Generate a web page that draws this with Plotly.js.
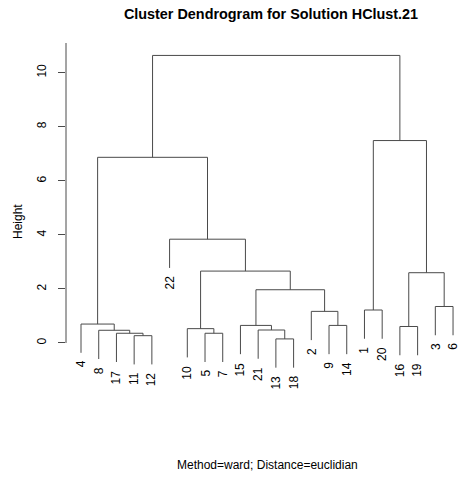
<!DOCTYPE html>
<html>
<head>
<meta charset="utf-8">
<script src="https://cdn.plot.ly/plotly-3.0.1.min.js"></script>
<style>html,body{margin:0;padding:0;background:#fff;}#chart{width:458px;height:477px;}</style>
</head>
<body>
<div id="chart"></div>
<script>
// Leaf labels in the order they appear left to right
const leafOrder = [4, 8, 17, 11, 12, 22, 10, 5, 7, 15, 21, 13, 18, 2, 9, 14, 1, 20, 16, 19, 3, 6];
// hclust-style merge table: negative = leaf label, positive = earlier merge (1-based)
const mergeA = [-13, -11, -17, -5, -8, -21, -10, -16, -9, -15, -4, -2, -1, -3, 10, 8, 7, -22, 11, 13, 19];
const mergeB = [-18, -12, 2, -7, 3, 1, 4, -19, -14, 6, 5, 9, -20, -6, 12, 14, 15, 17, 18, 16, 20];
const mergeHeight = [0.15, 0.27, 0.36, 0.36, 0.47, 0.48, 0.53, 0.61, 0.65, 0.65, 0.70, 1.17, 1.22, 1.35, 1.97, 2.60, 2.66, 3.84, 6.87, 7.49, 10.64];
const yTicks = [0, 2, 4, 6, 8, 10];

const titleText = "Cluster Dendrogram for Solution HClust.21";
const subText = "Method=ward; Distance=euclidian";
const yLabel = "Height";

const hang = 0.1 * Math.max(...mergeHeight);
const leafPos = {};
leafOrder.forEach((lab, i) => { leafPos[lab] = i + 1; });

const nodeX = [], nodeY = [];
const xs = [], ys = [];
const leafEnds = [];
function childInfo(c, h) {
  if (c < 0) {
    const lab = -c;
    const x = leafPos[lab];
    const y = h - hang;
    leafEnds.push({lab: lab, x: x, y: y});
    return [x, y];
  }
  return [nodeX[c - 1], nodeY[c - 1]];
}
for (let i = 0; i < mergeHeight.length; i++) {
  const h = mergeHeight[i];
  const a = childInfo(mergeA[i], h);
  const b = childInfo(mergeB[i], h);
  xs.push(a[0], a[0], b[0], b[0], null);
  ys.push(a[1], h, h, b[1], null);
  nodeX.push((a[0] + b[0]) / 2);
  nodeY.push(h);
}

const font = "Liberation Sans, Arial, Helvetica, sans-serif";
// plot area in pixels: left 66, width 392; top 43, height 337
const plotL = 66, plotW = 392, plotT = 43, plotH = 337;
const pxX = px => (px - plotL) / plotW;
const pxY = py => (plotT + plotH - py) / plotH;

const annotations = leafEnds.map(l => ({
  x: l.x, y: l.y, xref: 'x', yref: 'y',
  text: String(l.lab), showarrow: false, textangle: -90,
  xanchor: 'center', yanchor: 'top', yshift: -7, borderpad: 0,
  font: {family: font, size: 12, color: '#000'}
}));
annotations.push({
  x: (1 + leafOrder.length) / 2, xref: 'x', xanchor: 'center',
  y: pxY(465), yref: 'paper', yanchor: 'middle',
  text: subText, showarrow: false, font: {family: font, size: 12, color: '#000'}
});
annotations.push({
  x: pxX(18), xref: 'paper', xanchor: 'center',
  y: pxY(222), yref: 'paper', yanchor: 'middle',
  text: yLabel, showarrow: false, textangle: -90,
  font: {family: font, size: 12, color: '#000'}
});

const trace = {
  x: xs, y: ys, mode: 'lines', type: 'scatter',
  line: {color: '#4a4a4a', width: 1}, hoverinfo: 'skip', showlegend: false
};

const layout = {
  width: 458, height: 477,
  margin: {l: plotL, r: 458 - plotL - plotW, t: plotT, b: 477 - plotT - plotH, pad: 0},
  paper_bgcolor: '#fff', plot_bgcolor: '#fff',
  title: {
    text: '<b>' + titleText + '</b>',
    font: {family: font, size: 14.4, color: '#000'},
    x: 271 / 458, xanchor: 'center', xref: 'container',
    y: 1 - 14 / 477, yanchor: 'middle', yref: 'container'
  },
  xaxis: {range: [0.153, 22.28], visible: false, fixedrange: true},
  yaxis: {
    range: [-1.37, 11.10], tickvals: yTicks, ticktext: yTicks.map(String),
    ticks: 'outside', ticklen: 7, tickcolor: '#4a4a4a', tickwidth: 1,
    tickangle: -90, ticklabelstandoff: 7,
    showline: false, showgrid: false, zeroline: false,
    tickfont: {family: font, size: 12, color: '#000'},
    title: {text: ''}
  },
  annotations: annotations,
  shapes: [{
    type: 'line', xref: 'paper', x0: 0, x1: 0, yref: 'y', y0: 0, y1: 11.10,
    line: {color: '#4a4a4a', width: 1}
  }]
};

Plotly.newPlot('chart', [trace], layout, {displayModeBar: false, staticPlot: true});
</script>
</body>
</html>
